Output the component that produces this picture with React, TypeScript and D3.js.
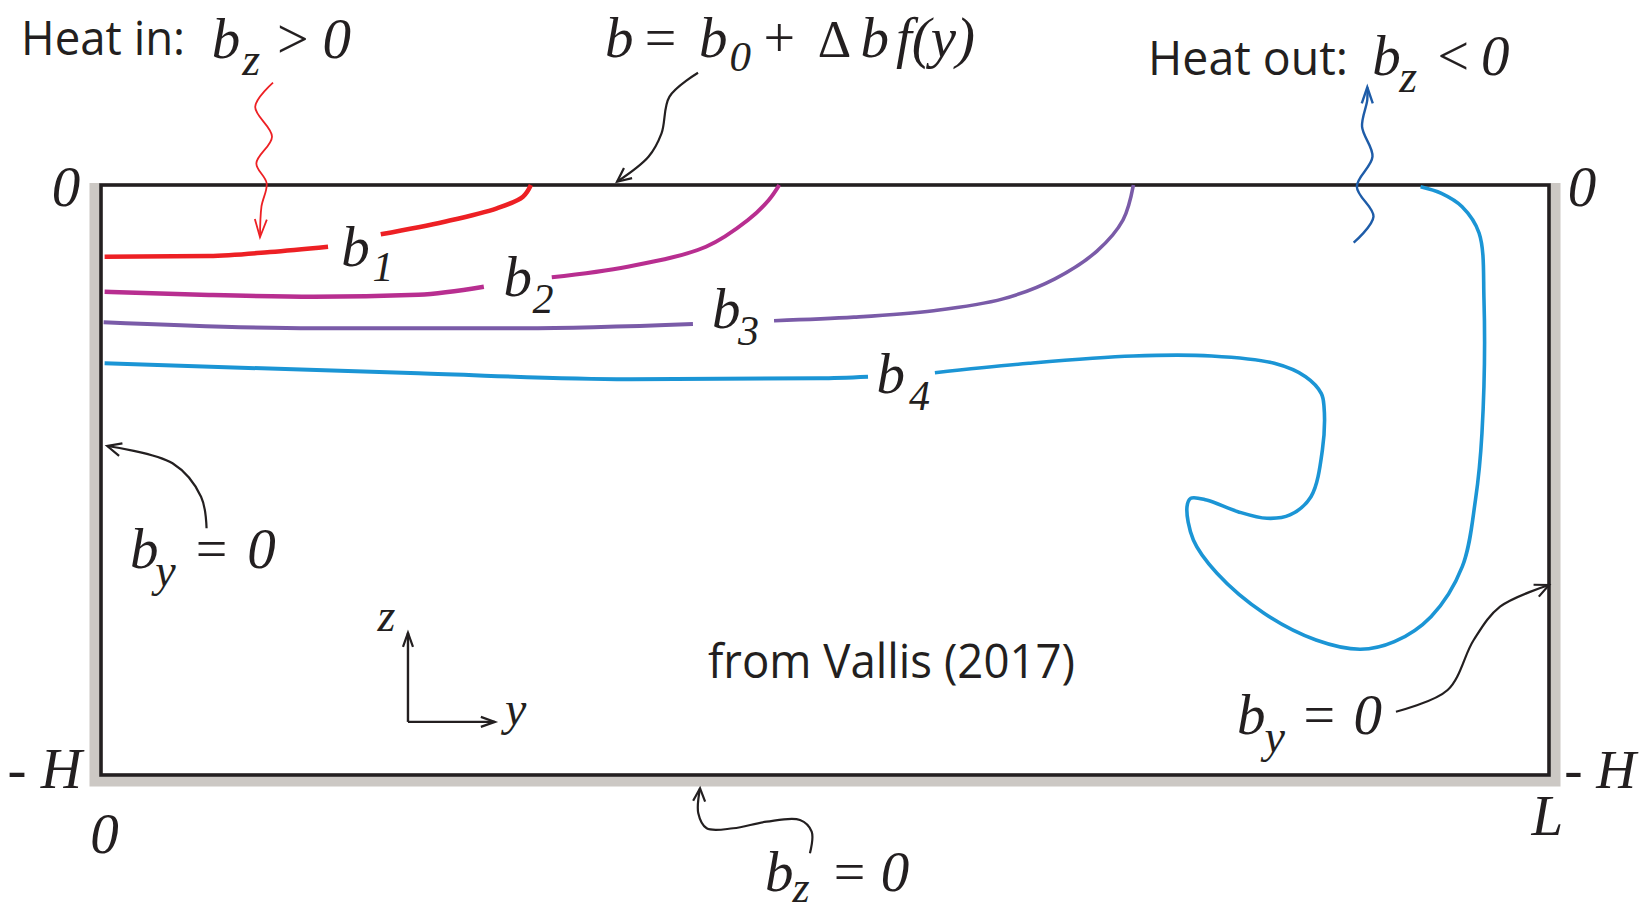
import React from 'react';
import * as d3 from 'd3';

// ---- Domain: horizontal coordinate y in % of L (0..100), vertical z in % of H (-100..0)
const Y_DOMAIN = [0, 100];
const Z_DOMAIN = [-100, 0];

// ---- Buoyancy contours (y, z) – each contour is split where its label sits
const b1Left = [[0.25, -12.15], [7.46, -12.03], [11.67, -11.36], [15.68, -10.46]];
const b1Right = [[19.32, -8.36], [23.73, -6.22], [27.34, -3.95], [29.14, -1.98], [29.69, 0]];

const b2Left = [[0.25, -18.08], [7.46, -18.64], [14.7, -18.93], [21.92, -18.59], [26.44, -17.24]];
const b2Right = [[31.13, -15.64], [36.37, -13.85], [41.78, -10.46], [44.68, -5.93], [46.12, -2.54], [46.84, 0]];

const b3Left = [[0.18, -23.27], [14.7, -24.29], [29.14, -24.29], [40.88, -23.56]];
const b3Right = [[46.48, -23.0], [52.0, -22.4], [57.5, -21.3], [62.29, -19.3], [65.88, -15.9], [68.78, -11.2], [70.58, -5.93], [71.3, 0]];

const b4Left = [[0.25, -30.22], [21.92, -31.92], [36.37, -32.93], [49.65, -32.76], [52.97, -32.49]];
const b4Right = [
  [57.59, -31.81], [64.08, -30.22], [71.29, -28.98], [76.7, -28.98], [81.03, -30.22], [83.19, -32.49],
  [84.27, -35.31], [84.46, -37.5], [84.35, -44.92], [83.56, -52.83], [82.11, -55.93], [80.52, -56.49],
  [78.52, -55.37], [76.35, -53.39], [75.26, -53.1], [75.0, -54.53], [75.44, -60.17], [77.07, -65.81],
  [80.32, -72.59], [83.91, -77.12], [86.98, -78.69], [89.32, -77.41], [91.85, -73.17], [94.01, -64.69],
  [94.92, -53.39], [95.37, -42.08], [95.51, -19.49], [95.17, -8.14], [94.0, -3.68], [92.57, -1.41], [91.13, -0.29],
];

// ---- Annotation arrows (y, z)
const heatInArrow = [[11.88, 17.34], [10.65, 13.27], [11.81, 8.19], [10.73, 3.68], [11.44, 0.29], [11.08, -3.68], [10.98, -8.86]];
const heatOutArrow = [[86.51, -9.78], [87.88, -5.37], [86.73, -0.29], [87.81, 4.8], [87.09, 9.88], [87.45, 14.41], [87.45, 16.56]];
const surfaceArrow = [[41.23, 19.03], [39.26, 14.97], [38.71, 8.76], [37.81, 4.8], [35.64, 0.56]];
const leftWallArrow = [[7.29, -58.19], [6.91, -52.83], [4.94, -47.17], [0.43, -44.24]];
const rightWallArrow = [[89.43, -89.27], [93.0, -85.59], [94.8, -77.12], [96.62, -71.47], [100.0, -67.8]];
const bottomArrow = [[48.96, -113.27], [49.08, -109.61], [48.27, -107.63], [45.97, -107.91], [43.66, -109.03], [41.83, -109.03], [41.25, -106.49], [41.37, -102.25]];

const axisOrigin = [21.2, -91.0];
const axisZTip = [21.2, -75.9];
const axisYTip = [27.2, -91.0];

// ---- Labels
const contourLabels = [
  { name: 'b', sub: '1', at: [16.6, -13.73], subAt: [18.75, -16.27] },
  { name: 'b', sub: '2', at: [27.8, -18.81], subAt: [29.8, -21.69] },
  { name: 'b', sub: '3', at: [42.2, -24.24], subAt: [44.0, -27.12] },
  { name: 'b', sub: '4', at: [53.55, -35.25], subAt: [55.8, -38.14] },
];

const COLORS = {
  ink: '#231f20',
  wall: '#ccc8c4',
  b1: '#ed2024',
  b2: '#b82e90',
  b3: '#7a5ba8',
  b4: '#1b95d5',
  heatIn: '#ed2024',
  heatOut: '#1e5ca8',
};

const xS = d3.scaleLinear().domain(Y_DOMAIN).range([101, 1549]);
const zS = d3.scaleLinear().domain(Z_DOMAIN).range([775, 185]);

const curve = d3
  .line<number[]>()
  .x((d) => xS(d[0]))
  .y((d) => zS(d[1]))
  .curve(d3.curveCatmullRom.alpha(0.5));

const smoothX = d3
  .line<number[]>()
  .x((d) => xS(d[0]))
  .y((d) => zS(d[1]))
  .curve(d3.curveMonotoneX);

const straight = d3
  .line<number[]>()
  .x((d) => xS(d[0]))
  .y((d) => zS(d[1]));

function head(pts: number[][], len = 14, half = 6.5) {
  const a = pts[pts.length - 2];
  const b = pts[pts.length - 1];
  const tx = xS(b[0]), ty = zS(b[1]);
  const px = xS(a[0]), py = zS(a[1]);
  const dx = tx - px, dy = ty - py;
  const m = Math.hypot(dx, dy) || 1;
  const ux = dx / m, uy = dy / m;
  const nx = -uy, ny = ux;
  const lx = tx - ux * len + nx * half, ly = ty - uy * len + ny * half;
  const rx = tx - ux * len - nx * half, ry = ty - uy * len - ny * half;
  return `M${lx},${ly}L${tx},${ty}L${rx},${ry}`;
}

const SERIF = "'Liberation Serif', 'Times New Roman', serif";
const SANS = "'Open Sans', 'Noto Sans', sans-serif";

function T(props: { at: number[]; children: React.ReactNode; size?: number; italic?: boolean; sans?: boolean; len?: number }) {
  const { at, children, size = 57, italic = true, sans = false, len } = props;
  return (
    <text
      x={xS(at[0])}
      y={zS(at[1])}
      fontFamily={sans ? SANS : SERIF}
      fontStyle={italic && !sans ? 'italic' : 'normal'}
      fontSize={size}
      fill={COLORS.ink}
      textLength={len}
      lengthAdjust={len ? 'spacingAndGlyphs' : undefined}
    >
      {children}
    </text>
  );
}

export default function App() {
  const x0 = xS(0), x1 = xS(100), zTop = zS(0), zBot = zS(-100);
  const off = 6.5;
  const wallPath = `M${x0 - off},${zTop - 2}L${x0 - off},${zBot + off}L${x1 + off},${zBot + off}L${x1 + off},${zTop - 2}`;

  const contour = (pts: number[][], color: string, w: number, gen = smoothX) => (
    <path d={gen(pts) || ''} fill="none" stroke={color} strokeWidth={w} strokeLinecap="butt" />
  );
  const arrow = (pts: number[][], color: string, w: number, len = 14, half = 6.5) => (
    <g>
      <path d={curve(pts) || ''} fill="none" stroke={color} strokeWidth={w} />
      <path d={head(pts, len, half)} fill="none" stroke={color} strokeWidth={w} strokeLinejoin="miter" />
    </g>
  );

  return (
    <svg
      width={1639}
      height={913}
      style={{ position: 'absolute', left: 0, top: 0, display: 'block', background: '#ffffff' }}
    >
      <rect x={0} y={0} width={1639} height={913} fill="#ffffff" />
      {/* walls */}
      <path d={wallPath} fill="none" stroke={COLORS.wall} strokeWidth={10} strokeLinejoin="miter" />
      {/* domain box */}
      <rect x={x0} y={zTop} width={x1 - x0} height={zBot - zTop} fill="none" stroke={COLORS.ink} strokeWidth={3.6} />

      {/* contours */}
      {contour(b1Left, COLORS.b1, 4.5)}
      {contour(b1Right, COLORS.b1, 4.5, curve)}
      {contour(b2Left, COLORS.b2, 4.5)}
      {contour(b2Right, COLORS.b2, 4, curve)}
      {contour(b3Left, COLORS.b3, 4)}
      {contour(b3Right, COLORS.b3, 3.6, curve)}
      {contour(b4Left, COLORS.b4, 4)}
      {contour(b4Right, COLORS.b4, 3.6, curve)}

      {/* heat arrows */}
      {arrow(heatInArrow, COLORS.heatIn, 1.8, 18, 6)}
      {arrow(heatOutArrow, COLORS.heatOut, 2.4, 16, 5.5)}

      {/* annotation arrows */}
      {arrow(surfaceArrow, COLORS.ink, 2.2)}
      {arrow(leftWallArrow, COLORS.ink, 2.2)}
      {arrow(rightWallArrow, COLORS.ink, 2.2)}
      {arrow(bottomArrow, COLORS.ink, 2.2, 13, 6)}

      {/* coordinate axes */}
      <path d={straight([axisOrigin, axisZTip]) || ''} stroke={COLORS.ink} strokeWidth={2.4} fill="none" />
      <path d={head([axisOrigin, axisZTip], 14, 5)} stroke={COLORS.ink} strokeWidth={2.2} fill="none" />
      <path d={straight([axisOrigin, axisYTip]) || ''} stroke={COLORS.ink} strokeWidth={2.4} fill="none" />
      <path d={head([axisOrigin, axisYTip], 14, 5)} stroke={COLORS.ink} strokeWidth={2.2} fill="none" />
      <T at={[19.1, -75.6]} size={46}>z</T>
      <T at={[27.9, -91.6]} size={48}>y</T>

      {/* contour labels */}
      {contourLabels.map((l) => (
        <g key={l.sub}>
          <T at={l.at} size={57}>{l.name}</T>
          <T at={l.subAt} size={42}>{l.sub}</T>
        </g>
      ))}

      {/* Heat in */}
      <T at={[-5.52, 22.03]} sans size={47} len={164}>Heat in:</T>
      <T at={[7.65, 21.53]}>b</T>
      <T at={[9.75, 18.6]} size={46}>z</T>
      <T at={[12.15, 21.53]} italic={false} size={56}>&gt;</T>
      <T at={[15.3, 21.53]}>0</T>

      {/* surface condition */}
      <T at={[34.8, 21.69]}>b</T>
      <T at={[37.55, 21.69]} italic={false} size={56}>=</T>
      <T at={[41.3, 21.69]}>b</T>
      <T at={[43.4, 19.32]} size={43}>0</T>
      <T at={[45.75, 21.69]} italic={false} size={56}>+</T>
      <T at={[49.5, 21.69]} italic={false} size={52}>Δ</T>
      <T at={[52.45, 21.69]}>b</T>
      <T at={[54.9, 21.69]}>f(y)</T>

      {/* Heat out */}
      <T at={[72.31, 18.64]} sans size={47} len={200}>Heat out:</T>
      <T at={[87.8, 18.64]}>b</T>
      <T at={[89.65, 15.76]} size={46}>z</T>
      <T at={[92.3, 18.64]} italic={false} size={56}>&lt;</T>
      <T at={[95.3, 18.64]}>0</T>

      {/* axis values */}
      <T at={[-3.4, -3.56]}>0</T>
      <T at={[101.3, -3.56]}>0</T>
      <T at={[-6.45, -102.2]}>- H</T>
      <T at={[101.05, -102.2]} size={55}>- H</T>
      <T at={[-0.75, -113.2]}>0</T>
      <T at={[98.8, -110.17]}>L</T>

      {/* boundary conditions */}
      <T at={[2.0, -64.92]}>b</T>
      <T at={[3.75, -67.97]} size={46}>y</T>
      <T at={[6.55, -64.92]} italic={false} size={56}>=</T>
      <T at={[10.1, -64.92]}>0</T>

      <T at={[78.45, -93.05]}>b</T>
      <T at={[80.35, -96.1]} size={46}>y</T>
      <T at={[83.05, -93.05]} italic={false} size={56}>=</T>
      <T at={[86.5, -93.05]}>0</T>

      <T at={[45.85, -119.6]}>b</T>
      <T at={[47.75, -121.6]} size={44}>z</T>
      <T at={[50.6, -119.6]} italic={false} size={56}>=</T>
      <T at={[53.85, -119.6]}>0</T>

      <T at={[41.92, -83.56]} sans size={47} len={367}>from Vallis (2017)</T>
    </svg>
  );
}
